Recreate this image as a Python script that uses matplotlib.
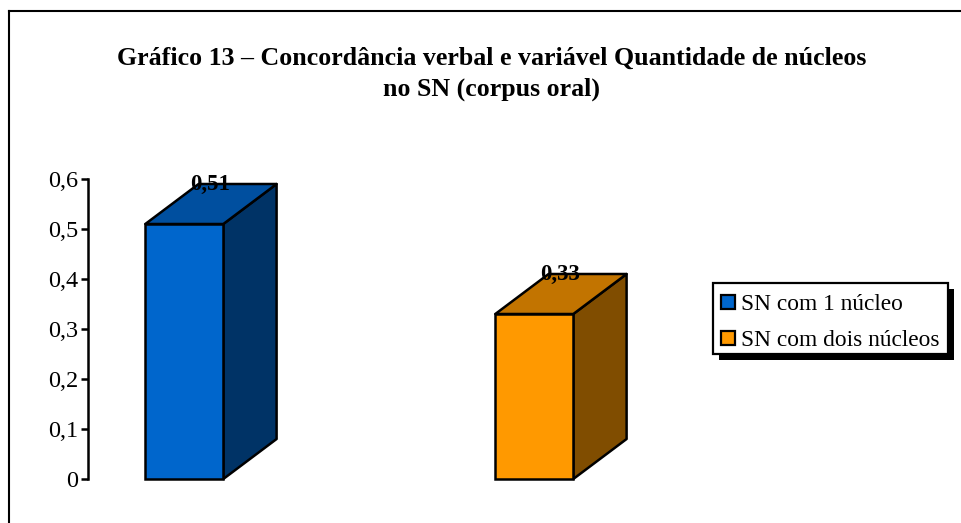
import matplotlib
matplotlib.use("Agg")
import matplotlib.pyplot as plt
from matplotlib.lines import Line2D
from matplotlib.patches import Polygon, Rectangle

plt.rcParams["font.family"] = ["Liberation Serif", "DejaVu Serif"]

title = "Gráfico 13 – Concordância verbal e variável Quantidade de núcleos\nno SN (corpus oral)"
categories = ["SN com 1 núcleo", "SN com dois núcleos"]
values = [0.51, 0.33]
value_labels = ["0,51", "0,33"]
yticks = [0, 0.1, 0.2, 0.3, 0.4, 0.5, 0.6]
yticklabels = ["0", "0,1", "0,2", "0,3", "0,4", "0,5", "0,6"]

front_colors = ["#0066CC", "#FF9900"]
top_colors = ["#004F9F", "#C27400"]
side_colors = ["#003366", "#804D00"]

W, H = 961, 523
fig = plt.figure(figsize=(W / 100, H / 100), dpi=100, facecolor="white")

# moldura: so em cima e a esquerda
fig.add_artist(Line2D([9 / W, 9 / W], [0, 1 - 11 / H], color="black", lw=1.5, solid_capstyle="projecting"))
fig.add_artist(Line2D([9 / W, 1], [1 - 11 / H, 1 - 11 / H], color="black", lw=1.5, solid_capstyle="projecting"))

fig.text(491.5 / W, 1 - 74 / H, title, ha="center", va="center", fontsize=18.6,
         fontweight="bold", linespacing=1.39)

# eixo: 0 em y=479 px, 0,6 em y=179 px
ax = fig.add_axes([88 / W, 1 - 479 / H, 552 / W, 300 / H])
ax.patch.set_alpha(0)
spacing = 350
center0 = 184.3
ax.set_xlim((88 - center0) / spacing, (640 - center0) / spacing)
ax.set_ylim(0, 0.6)
for s in ["top", "right", "bottom"]:
    ax.spines[s].set_visible(False)
ax.spines["left"].set_linewidth(1.8)
ax.set_xticks([])
ax.set_yticks(yticks)
ax.set_yticklabels(yticklabels, fontsize=17.5)
ax.tick_params(axis="y", length=5, width=1.8, pad=2, direction="out", color="black")

bar_w = 78 / spacing
dx = 53.3 / spacing
dy = 40 / 500

for i, v in enumerate(values):
    x0, x1 = i - bar_w / 2, i + bar_w / 2
    ax.add_patch(Polygon([(x1, 0), (x1 + dx, dy), (x1 + dx, v + dy), (x1, v)],
                         closed=True, fc=side_colors[i], ec="black", lw=1.8, joinstyle="round", clip_on=False))
    ax.add_patch(Polygon([(x0, v), (x0 + dx, v + dy), (x1 + dx, v + dy), (x1, v)],
                         closed=True, fc=top_colors[i], ec="black", lw=1.8, joinstyle="round", clip_on=False))
    ax.add_patch(Rectangle((x0, 0), bar_w, v, fc=front_colors[i], ec="black", lw=1.8, clip_on=False))
    ax.text(i + 0.075, v + dy - 0.001, value_labels[i], ha="center", va="center", fontsize=16.5,
            fontweight="bold", clip_on=False, zorder=5)

# legenda com sombra
box_x, box_y, box_w, box_h = 713, 283, 235, 71
fig.add_artist(Rectangle(((box_x + 6) / W, 1 - (box_y + box_h + 6) / H), box_w / W, box_h / H,
                         fc="black", ec="black", lw=0))
fig.add_artist(Rectangle((box_x / W, 1 - (box_y + box_h) / H), box_w / W, box_h / H,
                         fc="white", ec="black", lw=1.6))
for i, name in enumerate(categories):
    cy = 302 + i * 36
    fig.add_artist(Rectangle((721 / W, 1 - (cy + 7) / H), 14 / W, 14 / H,
                             fc=front_colors[i], ec="black", lw=1.6))
    fig.text(741 / W, 1 - (cy + 3) / H, name, ha="left", va="center", fontsize=16.8)

fig.savefig("out.png", dpi=100)
